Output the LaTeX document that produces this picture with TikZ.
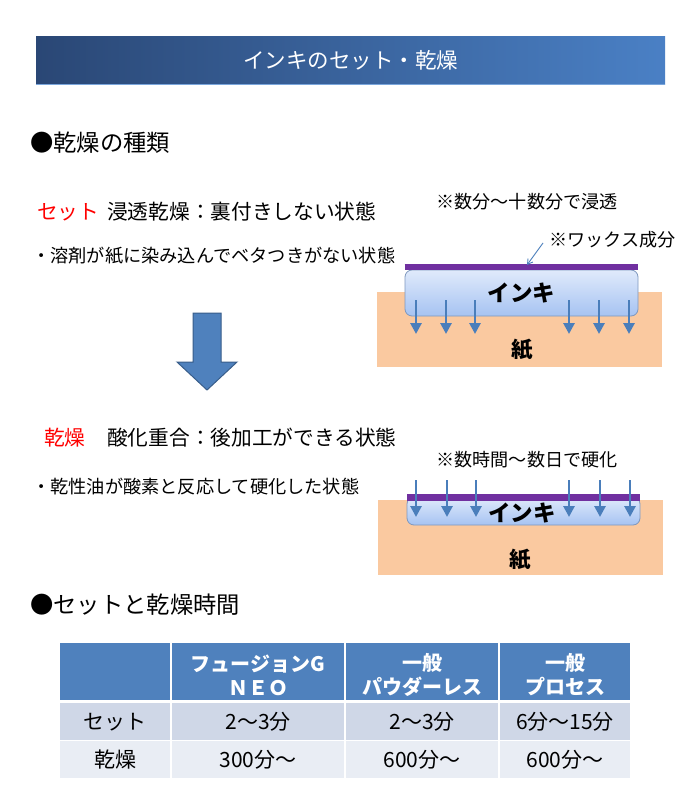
\documentclass[tikz,border=0pt]{standalone}
\usepackage{fontspec}
\setmainfont{Noto Sans CJK JP}
\usetikzlibrary{arrows.meta}
\definecolor{titleL}{HTML}{2A4775}
\definecolor{titleR}{HTML}{4A80C5}
\definecolor{titleEdge}{HTML}{7AA6DC}
\definecolor{paper}{HTML}{FAC9A0}
\definecolor{inkTop}{HTML}{E0EAFB}
\definecolor{inkBot}{HTML}{A6C3F2}
\definecolor{inkEdge}{HTML}{7F98BE}
\definecolor{wax}{HTML}{7030A0}
\definecolor{flow}{HTML}{4A7EBB}
\definecolor{bigFill}{HTML}{4F81BD}
\definecolor{bigEdge}{HTML}{385D8A}
\definecolor{hdr}{HTML}{4F81BD}
\definecolor{rowA}{HTML}{CFD7E7}
\definecolor{rowB}{HTML}{E9EDF4}
\definecolor{redtxt}{HTML}{FF0000}
\tikzset{
  txt/.style={inner sep=0pt, anchor=west},
  heading/.style={txt, font=\fontsize{23.3}{27}\selectfont},
  lead/.style={txt, font=\fontsize{20.7}{25}\selectfont},
  bullet/.style={txt, font=\fontsize{18.2}{22}\selectfont},
  note/.style={inner sep=0pt, font=\fontsize{18.1}{22}\selectfont},
  paperbox/.style={fill=paper, inner sep=0pt},
  inkbox/.style={draw=inkEdge, line width=0.8pt, rounded corners=7pt, top color=inkTop, bottom color=inkBot, inner sep=0pt, font=\fontsize{22.5}{26}\selectfont\bfseries},
  big/.style={inner sep=0pt, font=\fontsize{21.5}{26}\selectfont\bfseries},
  flowarrow/.style={draw=flow, line width=2.8pt, -{Triangle[width=11pt,length=11pt]}},
  leader/.style={draw=flow, line width=0.9pt, -{Straight Barb[length=5pt,width=6pt]}},
  hcell/.style={fill=hdr, inner sep=0pt, minimum height=57pt},
  acell/.style={fill=rowA, inner sep=0pt, minimum height=36.5pt},
  bcell/.style={fill=rowB, inner sep=0pt, minimum height=37pt},
  htext/.style={inner sep=0pt, text=white, align=center, font=\fontsize{20}{24}\selectfont\bfseries},
  dtext/.style={inner sep=0pt, font=\fontsize{21}{24}\selectfont},
}
\begin{document}
\begin{tikzpicture}[x=1pt,y=-1pt]
\useasboundingbox (0,0) rectangle (700,808);
\fill[white] (0,0) rectangle (700,808);
% title
\node[inner sep=0pt, minimum width=629pt, minimum height=47pt, left color=titleL, right color=titleR, text=white, font=\fontsize{21.5}{26}\selectfont] (title) at (350.5,60.5) {インキのセット・乾燥};
\draw[titleEdge, line width=1.2pt] (title.south west) -- (title.south east);
% headings
\node[heading] (h1) at (30,143) {●乾燥の種類};
\node[lead, text=redtxt] (setlbl) at (37,212) {セット};
\node[lead] (settxt) at (107,212) {浸透乾燥：裏付きしない状態};
\node[bullet] (setnote) at (32,256) {・溶剤が紙に染み込んでベタつきがない状態};
% big arrow
\filldraw[fill=bigFill, draw=bigEdge, line width=1pt] (193,313) -- (221,313) -- (221,362) -- (237,362) -- (207,390) -- (177,362) -- (193,362) -- cycle;
% diagram 1
\node[paperbox, minimum width=285pt, minimum height=75pt] (paper1) at (519.5,329.5) {};
\node[big] (kami1) at (522,350) {紙};
\node[inkbox, minimum width=233pt, minimum height=46pt] (ink1) at (521.5,293) {インキ};
\draw[wax, line width=6pt] (ink1.north west) ++(0,-2.5) coordinate (w1a) -- (ink1.north east |- w1a) coordinate (w1b);
\foreach \xx in {416,446,475,569,599,629}{
  \draw[flowarrow] (\xx,300) -- (\xx,334);
}
\node[note] (n1) at (527,202) {※数分～十数分で浸透};
\node[note, anchor=west] (waxlbl) at (549,240) {※ワックス成分};
\coordinate (waxtip) at (527,265);
\draw[leader] ([xshift=-6pt,yshift=-3pt]waxlbl.west) -- (waxtip);
% lower section
\node[lead, text=redtxt] (drylbl) at (44,438) {乾燥};
\node[lead] (drytxt) at (107,438) {酸化重合：後加工ができる状態};
\node[bullet] (drynote) at (32,487) {・乾性油が酸素と反応して硬化した状態};
% diagram 2
\node[paperbox, minimum width=285pt, minimum height=75pt] (paper2) at (520.5,537.5) {};
\node[big] (kami2) at (520,560) {紙};
\node[inkbox, minimum width=233pt, minimum height=28pt] (ink2) at (523.5,511) {};
\node[big, font=\fontsize{22.5}{26}\selectfont\bfseries] (inktxt2) at (522,513) {インキ};
\draw[wax, line width=6.5pt] (407,497.5) -- (640,497.5);
\foreach \xx in {416,447,476,569,600,630}{
  \draw[flowarrow] (\xx,480) -- (\xx,517);
}
\node[note] (n2) at (527,460) {※数時間～数日で硬化};
% table heading
\node[heading] (h2) at (30,605) {●セットと乾燥時間};
% table cells
\node[hcell, minimum width=110pt] (c00) at (115,671.5) {};
\node[hcell, minimum width=172pt] (c01) at (258,671.5) {};
\node[hcell, minimum width=152pt] (c02) at (422,671.5) {};
\node[hcell, minimum width=130pt] (c03) at (565,671.5) {};
\node[acell, minimum width=110pt] (c10) at (115,721.5) {};
\node[acell, minimum width=172pt] (c11) at (258,721.5) {};
\node[acell, minimum width=152pt] (c12) at (422,721.5) {};
\node[acell, minimum width=130pt] (c13) at (565,721.5) {};
\node[bcell, minimum width=110pt] (c20) at (115,759.5) {};
\node[bcell, minimum width=172pt] (c21) at (258,759.5) {};
\node[bcell, minimum width=152pt] (c22) at (422,759.5) {};
\node[bcell, minimum width=130pt] (c23) at (565,759.5) {};
% header texts
\node[htext] (t01) at (258,675) {フュージョンG\\ＮＥＯ};
\node[htext] (t02) at (422,675) {一般\\パウダーレス};
\node[htext] (t03) at (565,675) {一般\\プロセス};
% data texts
\node[dtext] (t10) at (115,722) {セット};
\node[dtext] (t11) at (258,722) {2～3分};
\node[dtext] (t12) at (422,722) {2～3分};
\node[dtext] (t13) at (565,722) {6分～15分};
\node[dtext] (t20) at (115,760) {乾燥};
\node[dtext] (t21) at (258,760) {300分～};
\node[dtext] (t22) at (422,760) {600分～};
\node[dtext] (t23) at (565,760) {600分～};
\end{tikzpicture}
\end{document}
